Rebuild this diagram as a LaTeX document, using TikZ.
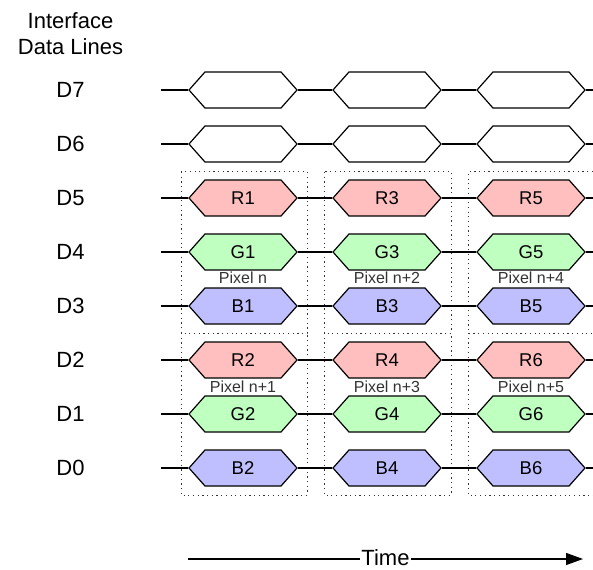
\documentclass[tikz,border=0pt]{standalone}
\usepackage{fontspec}
\setmainfont{Liberation Sans}
\usetikzlibrary{shapes.symbols,arrows.meta}
\definecolor{redfill}{HTML}{FFBFBF}
\definecolor{greenfill}{HTML}{BFFFBF}
\definecolor{bluefill}{HTML}{BFBFFF}
\begin{document}
\begin{tikzpicture}[x=1pt, y=-1pt,
    hexa/.style={signal, signal to=west and east, signal pointer angle=96.8, draw, line width=1.2pt, minimum width=108pt, minimum height=36pt, inner sep=0pt, font=\fontsize{18.5}{20}\selectfont},
    rdata/.style={hexa, fill=redfill},
    gdata/.style={hexa, fill=greenfill},
    bdata/.style={hexa, fill=bluefill},
    lane/.style={font=\fontsize{22}{26}\selectfont},
    pixlabel/.style={font=\fontsize{16}{18}\selectfont, text=black!80},
    wire/.style={line width=1.2pt},
    group/.style={dash pattern=on 1.2pt off 3.5pt, line width=1pt, black!80}
]
\useasboundingbox (0,0) rectangle (593,569);

% Title
\node[lane, align=center] (title) at (70.5,34) {Interface\\Data Lines};

% Lane names
\node[lane] (n7) at (70.5,90) {D7};
\node[lane] (n6) at (70.5,144) {D6};
\node[lane] (n5) at (70.5,198) {D5};
\node[lane] (n4) at (70.5,252) {D4};
\node[lane] (n3) at (70.5,306) {D3};
\node[lane] (n2) at (70.5,360) {D2};
\node[lane] (n1) at (70.5,414) {D1};
\node[lane] (n0) at (70.5,468) {D0};

% Pixel groups
\draw[group] (181,172) rectangle (307,333);
\draw[group] (324,172) rectangle (451,333);
\draw[group] (593,172) -- (468,172) -- (468,333) -- (593,333);
\draw[group] (181,333) -- (181,495) -- (307,495) -- (307,333);
\draw[group] (324,333) -- (324,495) -- (451,495) -- (451,333);
\draw[group] (468,333) -- (468,495) -- (593,495);

% Data words
\node[hexa] (h71) at (243,90) {};
\node[hexa] (h72) at (387,90) {};
\node[hexa] (h73) at (531,90) {};
\node[hexa] (h61) at (243,144) {};
\node[hexa] (h62) at (387,144) {};
\node[hexa] (h63) at (531,144) {};
\node[rdata] (h51) at (243,198) {R1};
\node[rdata] (h52) at (387,198) {R3};
\node[rdata] (h53) at (531,198) {R5};
\node[gdata] (h41) at (243,252) {G1};
\node[gdata] (h42) at (387,252) {G3};
\node[gdata] (h43) at (531,252) {G5};
\node[bdata] (h31) at (243,306) {B1};
\node[bdata] (h32) at (387,306) {B3};
\node[bdata] (h33) at (531,306) {B5};
\node[rdata] (h21) at (243,360) {R2};
\node[rdata] (h22) at (387,360) {R4};
\node[rdata] (h23) at (531,360) {R6};
\node[gdata] (h11) at (243,414) {G2};
\node[gdata] (h12) at (387,414) {G4};
\node[gdata] (h13) at (531,414) {G6};
\node[bdata] (h01) at (243,468) {B2};
\node[bdata] (h02) at (387,468) {B4};
\node[bdata] (h03) at (531,468) {B6};

% Lines
\foreach \r/\y in {7/90, 6/144, 5/198, 4/252, 3/306, 2/360, 1/414, 0/468} {
  \coordinate (s\r) at (161,\y);
  \coordinate (e\r) at (593,\y);
  \draw[wire] (s\r) -- (h\r1.west) (h\r1.east) -- (h\r2.west) (h\r2.east) -- (h\r3.west) (h\r3.east) -- (e\r);
}

% Pixel labels
\node[pixlabel] (p0) at (243,278) {Pixel n};
\node[pixlabel] (p2) at (387,278) {Pixel n+2};
\node[pixlabel] (p4) at (531,278) {Pixel n+4};
\node[pixlabel] (p1) at (243,387) {Pixel n+1};
\node[pixlabel] (p3) at (387,387) {Pixel n+3};
\node[pixlabel] (p5) at (531,387) {Pixel n+5};

% Time axis
\coordinate (t0) at (188,559);
\coordinate (t1) at (583,559);
\draw[wire, -{Triangle[length=17pt, width=12pt]}] (t0) -- node[lane, fill=white, inner xsep=1pt, inner ysep=0pt, yshift=1.5pt] (time) {Time} (t1);
\end{tikzpicture}
\end{document}
